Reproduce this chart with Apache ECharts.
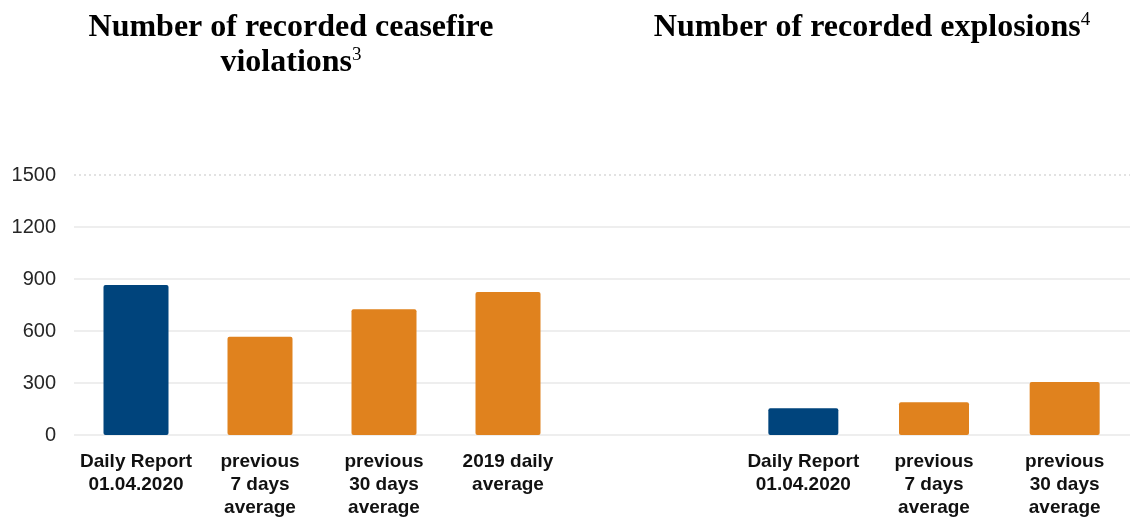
<!DOCTYPE html>
<html>
<head>
<meta charset="utf-8">
<script src="https://cdn.jsdelivr.net/npm/echarts@6/dist/echarts.min.js"></script>
<style>
html,body{margin:0;padding:0;background:#fff;}
#chart{width:1130px;height:525px;}
</style>
</head>
<body>
<div id="chart"></div>
<script>
// ---- Data ----
var ceasefireCategories = ['Daily Report\n01.04.2020', 'previous\n7 days\naverage', 'previous\n30 days\naverage', '2019 daily\naverage'];
var ceasefireValues = [866, 567, 725, 825];
var explosionCategories = ['Daily Report\n01.04.2020', 'previous\n7 days\naverage', 'previous\n30 days\naverage'];
var explosionValues = [154, 189, 306];
var yTicks = [0, 300, 600, 900, 1200, 1500];
var titleLeft = ['Number of recorded ceasefire', 'violations', '3'];
var titleRight = ['Number of recorded explosions', '4'];

var BLUE = '#00447C';
var ORANGE = '#E0821E';
var yMin = yTicks[0], yMax = yTicks[yTicks.length - 1], yStep = yTicks[1] - yTicks[0];

function colored(vals) {
  return vals.map(function (v, i) {
    return { value: v, itemStyle: { color: i === 0 ? BLUE : ORANGE } };
  });
}

var xLabelStyle = {
  interval: 0,
  fontFamily: 'Liberation Sans, Arial, sans-serif',
  fontWeight: 'bold',
  fontSize: 19,
  lineHeight: 23,
  color: '#111',
  margin: 15
};

var chart = echarts.init(document.getElementById('chart'), null, { renderer: 'canvas' });
var option = {
  animation: false,
  backgroundColor: '#fff',
  grid: [
    { left: 74, right: 0, top: 175, bottom: 90 },
    { left: 74, width: 496, top: 175, bottom: 90 },
    { left: 738, width: 396, top: 175, bottom: 90 }
  ],
  xAxis: [
    { gridIndex: 0, type: 'value', min: 0, max: 1, show: false },
    { gridIndex: 1, type: 'category', data: ceasefireCategories,
      axisLine: { show: false }, axisTick: { show: false }, axisLabel: xLabelStyle, splitLine: { show: false } },
    { gridIndex: 2, type: 'category', data: explosionCategories,
      axisLine: { show: false }, axisTick: { show: false }, axisLabel: xLabelStyle, splitLine: { show: false } }
  ],
  yAxis: [
    { gridIndex: 0, type: 'value', min: yMin, max: yMax, interval: yStep,
      axisLine: { show: false }, axisTick: { show: false },
      axisLabel: { fontFamily: 'Liberation Sans, Arial, sans-serif', fontSize: 20, color: '#262626', margin: 18,
        formatter: function (v) { return String(v); } },
      splitLine: { show: true, showMaxLine: false, lineStyle: { color: '#e8e8e8', width: 1.5 } } },
    { gridIndex: 0, type: 'value', min: yMin, max: yMax, interval: yMax - yMin, position: 'right',
      axisLine: { show: false }, axisTick: { show: false }, axisLabel: { show: false },
      splitLine: { show: true, showMinLine: false, lineStyle: { color: '#d9d9d9', width: 1.5, type: [2, 3] } } },
    { gridIndex: 1, type: 'value', min: yMin, max: yMax, show: false, splitLine: { show: false } },
    { gridIndex: 2, type: 'value', min: yMin, max: yMax, show: false, splitLine: { show: false } }
  ],
  series: [
    { type: 'bar', xAxisIndex: 1, yAxisIndex: 2, barWidth: 65, data: colored(ceasefireValues),
      itemStyle: { borderRadius: 2 } },
    { type: 'bar', xAxisIndex: 2, yAxisIndex: 3, barWidth: 70, data: colored(explosionValues),
      itemStyle: { borderRadius: 2 } }
  ],
  graphic: [
    { type: 'text', x: 291, y: 28, style: {
      text: titleLeft[0], align: 'center', verticalAlign: 'middle',
      font: 'bold 32px "Liberation Serif", "Times New Roman", serif', fill: '#000' } },
    { type: 'text', x: 291, y: 63, style: {
      text: '{t|' + titleLeft[1] + '}{s|' + titleLeft[2] + '}', align: 'center', verticalAlign: 'middle',
      rich: {
        t: { fontFamily: 'Liberation Serif, Times New Roman, serif', fontWeight: 'bold', fontSize: 32, lineHeight: 34, color: '#000' },
        s: { fontFamily: 'Liberation Serif, Times New Roman, serif', fontSize: 19, lineHeight: 20, verticalAlign: 'top', color: '#000' }
      } } },
    { type: 'text', x: 872, y: 28, style: {
      text: '{t|' + titleRight[0] + '}{s|' + titleRight[1] + '}', align: 'center', verticalAlign: 'middle',
      rich: {
        t: { fontFamily: 'Liberation Serif, Times New Roman, serif', fontWeight: 'bold', fontSize: 32, lineHeight: 34, color: '#000' },
        s: { fontFamily: 'Liberation Serif, Times New Roman, serif', fontSize: 19, lineHeight: 20, verticalAlign: 'top', color: '#000' }
      } } }
  ]
};
chart.setOption(option);
</script>
</body>
</html>
